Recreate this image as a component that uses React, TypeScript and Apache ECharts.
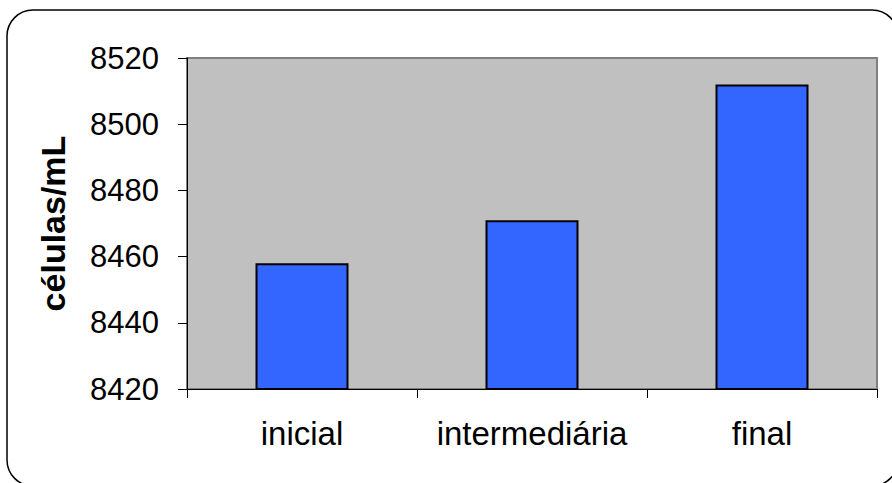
import React, { useEffect, useRef } from "react";
import * as echarts from "echarts";

const categories = ["inicial", "intermediária", "final"];
const cellCounts = [8458, 8471, 8512];
const yMin = 8420;
const yMax = 8520;
const yStep = 20;
const yAxisTitle = "células/mL";

export default function App() {
  const ref = useRef<HTMLDivElement>(null);

  useEffect(() => {
    if (!ref.current) return;
    const chart = echarts.init(ref.current, undefined, { renderer: "svg" });
    chart.setOption({
      animation: false,
      backgroundColor: "#FFFFFF",
      textStyle: { fontFamily: "Liberation Sans, Arial, sans-serif" },
      graphic: [
        {
          type: "rect",
          shape: { x: 7, y: 10, width: 891, height: 476, r: 26 },
          style: { fill: "none", stroke: "#000000", lineWidth: 1.5 },
          z: -10,
        },
      ],
      grid: {
        left: 187,
        right: 15,
        top: 58,
        bottom: 94,
        show: true,
        backgroundColor: "#C0C0C0",
        borderColor: "#808080",
        borderWidth: 2,
      },
      xAxis: {
        type: "category",
        data: categories,
        axisLine: { show: true, lineStyle: { color: "#000000", width: 1 } },
        axisTick: {
          show: true,
          alignWithLabel: false,
          length: 9,
          lineStyle: { color: "#000000" },
        },
        axisLabel: {
          color: "#000000",
          fontSize: 33,
          margin: 28,
          interval: 0,
          hideOverlap: false,
          fontFamily: "Liberation Sans, Arial, sans-serif",
        },
        splitLine: { show: false },
      },
      yAxis: {
        type: "value",
        min: yMin,
        max: yMax,
        interval: yStep,
        name: yAxisTitle,
        nameLocation: "middle",
        nameGap: 117,
        nameRotate: 90,
        nameTextStyle: {
          color: "#000000",
          fontSize: 34,
          fontWeight: "bold",
          fontFamily: "Liberation Sans, Arial, sans-serif",
        },
        axisLine: { show: true, lineStyle: { color: "#000000", width: 1 } },
        axisTick: { show: true, length: 9, lineStyle: { color: "#000000" } },
        axisLabel: {
          color: "#000000",
          fontSize: 31,
          margin: 28,
          formatter: (v: number) => String(v),
          fontFamily: "Liberation Sans, Arial, sans-serif",
        },
        splitLine: { show: false },
      },
      series: [
        {
          type: "bar",
          data: cellCounts,
          barWidth: 93,
          itemStyle: {
            color: "#3366FF",
            borderColor: "#000000",
            borderWidth: 2,
          },
        },
      ],
    });
    return () => chart.dispose();
  }, []);

  return (
    <div
      ref={ref}
      style={{ position: "fixed", left: 0, top: 0, width: 892, height: 483 }}
    />
  );
}
